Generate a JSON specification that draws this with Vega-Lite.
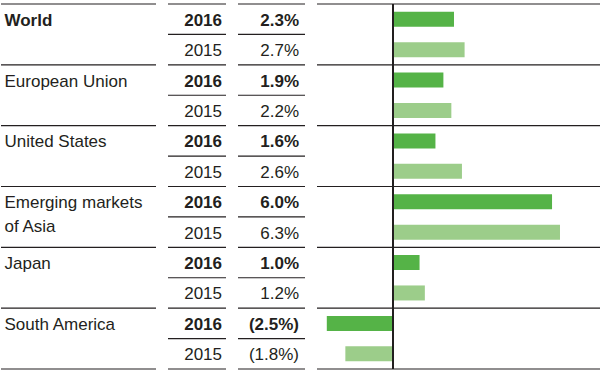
{
  "$schema": "https://vega.github.io/schema/vega-lite/v6.json",
  "padding": {"top": 3, "left": 0, "right": 0, "bottom": 0},
  "bounds": "flush",
  "config": {
    "view": {"stroke": null},
    "concat": {"spacing": 12},
    "text": {"font": "Liberation Sans", "fontSize": 17, "fill": "#231f20"}
  },
  "resolve": {"scale": {"x": "independent"}},
  "datasets": {
    "rows": [
      {"row": 0, "region": "World", "year": "2016", "value": 0.023},
      {"row": 1, "region": "World", "year": "2015", "value": 0.027},
      {"row": 2, "region": "European Union", "year": "2016", "value": 0.019},
      {"row": 3, "region": "European Union", "year": "2015", "value": 0.022},
      {"row": 4, "region": "United States", "year": "2016", "value": 0.016},
      {"row": 5, "region": "United States", "year": "2015", "value": 0.026},
      {"row": 6, "region": "Emerging markets\nof Asia", "year": "2016", "value": 0.060},
      {"row": 7, "region": "Emerging markets\nof Asia", "year": "2015", "value": 0.063},
      {"row": 8, "region": "Japan", "year": "2016", "value": 0.010},
      {"row": 9, "region": "Japan", "year": "2015", "value": 0.012},
      {"row": 10, "region": "South America", "year": "2016", "value": -0.025},
      {"row": 11, "region": "South America", "year": "2015", "value": -0.018}
    ]
  },
  "data": {"name": "rows"},
  "hconcat": [
    {
      "width": 155,
      "height": 365,
      "layer": [
        {
          "transform": [{"filter": "datum.year === '2016'"}],
          "mark": {"type": "rule", "color": "#231f20", "strokeWidth": 1.2},
          "encoding": {"y": {"field": "row", "type": "ordinal", "bandPosition": 0, "scale": {"domain": [0,1,2,3,4,5,6,7,8,9,10,11], "paddingInner": 0, "paddingOuter": 0}, "axis": null}}
        },
        {
          "transform": [{"filter": "datum.row === 11"}],
          "mark": {"type": "rule", "color": "#231f20", "strokeWidth": 1.2},
          "encoding": {"y": {"field": "row", "type": "ordinal", "bandPosition": 1, "axis": null}}
        },
        {
          "transform": [{"filter": "datum.year === '2016' && datum.region === 'World'"}],
          "mark": {"type": "text", "align": "left", "baseline": "alphabetic", "dx": 3.5, "dy": 6.5, "fontWeight": "bold"},
          "encoding": {
            "x": {"datum": 0, "type": "quantitative", "scale": {"domain": [0, 1]}, "axis": null},
            "y": {"field": "row", "type": "ordinal", "axis": null},
            "text": {"field": "region"}
          }
        },
        {
          "transform": [{"filter": "datum.year === '2016' && datum.region !== 'World'"}],
          "mark": {"type": "text", "align": "left", "baseline": "alphabetic", "dx": 3.5, "dy": 6.5, "lineBreak": "\n", "lineHeight": 24},
          "encoding": {
            "x": {"datum": 0, "type": "quantitative", "axis": null},
            "y": {"field": "row", "type": "ordinal", "axis": null},
            "text": {"field": "region"}
          }
        }
      ]
    },
    {
      "width": 58,
      "height": 365,
      "layer": [
        {
          "mark": {"type": "rule", "color": "#231f20", "strokeWidth": 1.2},
          "encoding": {"y": {"field": "row", "type": "ordinal", "bandPosition": 0, "scale": {"domain": [0,1,2,3,4,5,6,7,8,9,10,11], "paddingInner": 0, "paddingOuter": 0}, "axis": null}}
        },
        {
          "transform": [{"filter": "datum.row === 11"}],
          "mark": {"type": "rule", "color": "#231f20", "strokeWidth": 1.2},
          "encoding": {"y": {"field": "row", "type": "ordinal", "bandPosition": 1, "axis": null}}
        },
        {
          "transform": [{"filter": "datum.year === '2016'"}],
          "mark": {"type": "text", "align": "right", "baseline": "alphabetic", "dx": -4, "dy": 6.5, "fontWeight": "bold"},
          "encoding": {
            "x": {"datum": 1, "type": "quantitative", "scale": {"domain": [0, 1]}, "axis": null},
            "y": {"field": "row", "type": "ordinal", "axis": null},
            "text": {"field": "year", "type": "nominal"}
          }
        },
        {
          "transform": [{"filter": "datum.year === '2015'"}],
          "mark": {"type": "text", "align": "right", "baseline": "alphabetic", "dx": -4, "dy": 6.5},
          "encoding": {
            "x": {"datum": 1, "type": "quantitative", "axis": null},
            "y": {"field": "row", "type": "ordinal", "axis": null},
            "text": {"field": "year", "type": "nominal"}
          }
        }
      ]
    },
    {
      "width": 67,
      "height": 365,
      "layer": [
        {
          "mark": {"type": "rule", "color": "#231f20", "strokeWidth": 1.2},
          "encoding": {"y": {"field": "row", "type": "ordinal", "bandPosition": 0, "scale": {"domain": [0,1,2,3,4,5,6,7,8,9,10,11], "paddingInner": 0, "paddingOuter": 0}, "axis": null}}
        },
        {
          "transform": [{"filter": "datum.row === 11"}],
          "mark": {"type": "rule", "color": "#231f20", "strokeWidth": 1.2},
          "encoding": {"y": {"field": "row", "type": "ordinal", "bandPosition": 1, "axis": null}}
        },
        {
          "transform": [{"filter": "datum.year === '2016'"}],
          "mark": {"type": "text", "align": "right", "baseline": "alphabetic", "dx": -6, "dy": 6.5, "fontWeight": "bold"},
          "encoding": {
            "x": {"datum": 1, "type": "quantitative", "scale": {"domain": [0, 1]}, "axis": null},
            "y": {"field": "row", "type": "ordinal", "axis": null},
            "text": {"field": "value", "type": "quantitative", "format": "(.1%"}
          }
        },
        {
          "transform": [{"filter": "datum.year === '2015'"}],
          "mark": {"type": "text", "align": "right", "baseline": "alphabetic", "dx": -6, "dy": 6.5},
          "encoding": {
            "x": {"datum": 1, "type": "quantitative", "axis": null},
            "y": {"field": "row", "type": "ordinal", "axis": null},
            "text": {"field": "value", "type": "quantitative", "format": "(.1%"}
          }
        }
      ]
    },
    {
      "width": 283,
      "height": 365,
      "layer": [
        {
          "transform": [{"filter": "datum.year === '2016'"}],
          "mark": {"type": "rule", "color": "#231f20", "strokeWidth": 1.2},
          "encoding": {"y": {"field": "row", "type": "ordinal", "bandPosition": 0, "scale": {"domain": [0,1,2,3,4,5,6,7,8,9,10,11], "paddingInner": 0, "paddingOuter": 0}, "axis": null}}
        },
        {
          "transform": [{"filter": "datum.row === 11"}],
          "mark": {"type": "rule", "color": "#231f20", "strokeWidth": 1.2},
          "encoding": {"y": {"field": "row", "type": "ordinal", "bandPosition": 1, "axis": null}}
        },
        {
          "mark": {"type": "bar", "height": 15},
          "encoding": {
            "x": {"field": "value", "type": "quantitative", "stack": null, "scale": {"domain": [-0.0287, 0.0781], "nice": false, "zero": false}, "axis": null},
            "x2": {"datum": 0},
            "y": {"field": "row", "type": "ordinal", "axis": null},
            "color": {"field": "year", "type": "nominal", "scale": {"domain": ["2016", "2015"], "range": ["#55b347", "#9ccd8a"]}, "legend": null}
          }
        },
        {
          "mark": {"type": "rule", "color": "#231f20", "strokeWidth": 1.2},
          "encoding": {"x": {"datum": 0, "type": "quantitative"}}
        }
      ]
    }
  ]
}
